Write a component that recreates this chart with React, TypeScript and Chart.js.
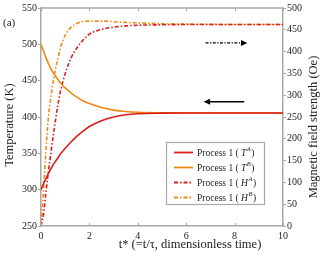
import React, { useEffect, useRef } from "react";
import { Chart, registerables } from "chart.js";
Chart.register(...registerables);

// dimensionless time t*
const times = [0, 0.1, 0.2, 0.3, 0.4, 0.5, 0.6, 0.7, 0.8, 0.9, 1, 1.25, 1.5, 1.75, 2, 2.5, 3, 3.5, 4, 5, 6, 7, 8, 9, 10];
// Temperature (K)
const tempA = [300, 308, 315, 322, 328, 334, 339, 344, 349, 353, 357, 366, 374, 381, 387, 395, 400, 403, 404.5, 405.3, 405.5, 405.5, 405.5, 405.5, 405.5];
const tempB = [500, 491, 482, 474, 467, 461, 456, 451.5, 447, 443, 440, 433, 427, 422, 418.5, 413, 409.5, 407.5, 406.5, 405.8, 405.5, 405.5, 405.5, 405.5, 405.5];
// Magnetic field strength (Oe)
const fieldA = [0, 25, 75, 122, 163, 205, 243, 278, 308, 330, 350, 386, 410, 427, 440, 451, 456, 459, 460.5, 461.5, 462, 462, 462, 462, 462];
const fieldB = [0, 80, 170, 245, 292, 330, 360, 385, 408, 425, 438, 456, 465, 469, 470, 470, 468.5, 467, 466, 464, 463, 462.5, 462, 462, 462];

const xTicks = [0, 2, 4, 6, 8, 10];
const seriesLabels = ["T", "T", "H", "H"];
const seriesSups = ["A", "B", "A", "B"];

const RED = "#d81e1e";
const ORANGE = "#ee8a12";
const AXIS = "#a8a8a8";
const TEXT = "#222";
const SERIF = "'Liberation Serif', 'Times New Roman', serif";
const DASHDOT = [4, 2, 1.5, 2];

const pts = (ys: number[]) => times.map((t, i) => ({ x: t, y: ys[i] }));

const decor = {
  id: "decor",
  afterDraw(chart: any) {
    const { ctx, chartArea: a, scales } = chart;
    const xs = scales.x, yl = scales.y, yr = scales.y2;
    ctx.save();
    // top frame line
    ctx.strokeStyle = AXIS;
    ctx.lineWidth = 1.5;
    ctx.beginPath();
    ctx.moveTo(a.left, a.top);
    ctx.lineTo(a.right, a.top);
    ctx.stroke();
    // inward x ticks (bottom and top)
    ctx.lineWidth = 1;
    for (const v of xTicks) {
      const px = Math.round(xs.getPixelForValue(v)) + 0.5;
      ctx.beginPath();
      ctx.moveTo(px, a.bottom);
      ctx.lineTo(px, a.bottom - 3);
      ctx.moveTo(px, a.top);
      ctx.lineTo(px, a.top + 3);
      ctx.stroke();
    }
    // titles
    ctx.fillStyle = TEXT;
    ctx.font = `12.5px ${SERIF}`;
    ctx.textAlign = "center";
    ctx.textBaseline = "middle";
    ctx.fillText("t* (=t/\u03c4, dimensionless time)", 190, 245);
    ctx.save();
    ctx.translate(10, (a.top + a.bottom) / 2 + 8);
    ctx.rotate(-Math.PI / 2);
    ctx.fillText("Temperature (K)", 0, 0);
    ctx.restore();
    ctx.save();
    ctx.translate(314, (a.top + a.bottom) / 2 + 10);
    ctx.rotate(-Math.PI / 2);
    ctx.fillText("Magnetic field strength (Oe)", 0, 0);
    ctx.restore();
    // panel label
    ctx.font = `11px ${SERIF}`;
    ctx.textAlign = "left";
    ctx.fillText("(a)", 3, 23);

    // arrows
    ctx.strokeStyle = "#000";
    ctx.fillStyle = "#000";
    ctx.lineWidth = 1.3;
    const arrow = (x0: number, x1: number, y: number, dash: number[]) => {
      const dir = Math.sign(x1 - x0);
      ctx.setLineDash(dash);
      ctx.beginPath();
      ctx.moveTo(x0, y);
      ctx.lineTo(x1 - dir * 5, y);
      ctx.stroke();
      ctx.setLineDash([]);
      ctx.beginPath();
      ctx.moveTo(x1, y);
      ctx.lineTo(x1 - dir * 6.5, y - 3);
      ctx.lineTo(x1 - dir * 6.5, y + 3);
      ctx.closePath();
      ctx.fill();
    };
    arrow(xs.getPixelForValue(6.8), xs.getPixelForValue(8.53), yr.getPixelForValue(420), [3, 1.5, 1.2, 1.5]);
    arrow(xs.getPixelForValue(8.4), xs.getPixelForValue(6.72), yl.getPixelForValue(421), []);

    // legend
    const bx = 166, by = 142, bw = 98, bh = 62;
    ctx.fillStyle = "#fff";
    ctx.fillRect(bx, by, bw, bh);
    ctx.strokeStyle = AXIS;
    ctx.lineWidth = 1.2;
    ctx.strokeRect(bx + 0.5, by + 0.5, bw, bh);
    chart.data.datasets.forEach((ds: any, i: number) => {
      const ry = by + 10.5 + i * 15;
      ctx.strokeStyle = ds.borderColor;
      ctx.lineWidth = 1.8;
      ctx.setLineDash(ds.borderDash || []);
      ctx.beginPath();
      ctx.moveTo(bx + 8, ry);
      ctx.lineTo(bx + 27, ry);
      ctx.stroke();
      ctx.setLineDash([]);
      ctx.fillStyle = TEXT;
      ctx.textBaseline = "middle";
      ctx.textAlign = "left";
      let tx = bx + 31;
      ctx.font = `9.5px ${SERIF}`;
      const s1 = "Process 1 ( ";
      ctx.fillText(s1, tx, ry + 1);
      tx += ctx.measureText(s1).width;
      ctx.font = `italic 9.5px ${SERIF}`;
      ctx.fillText(seriesLabels[i], tx, ry + 1);
      tx += ctx.measureText(seriesLabels[i]).width;
      ctx.font = `italic 6.5px ${SERIF}`;
      ctx.fillText(seriesSups[i], tx + 0.5, ry - 3);
      tx += ctx.measureText(seriesSups[i]).width + 1;
      ctx.font = `9.5px ${SERIF}`;
      ctx.fillText(")", tx, ry + 1);
    });
    ctx.restore();
  },
};

export default function App() {
  const ref = useRef<HTMLCanvasElement>(null);
  useEffect(() => {
    document.body.style.margin = "0";
    const tickFont = { family: SERIF, size: 10 };
    const chart = new Chart(ref.current!, {
      type: "line",
      data: {
        datasets: [
          { label: "Process 1 (T^A)", data: pts(tempA), yAxisID: "y", borderColor: RED, borderWidth: 1.6 },
          { label: "Process 1 (T^B)", data: pts(tempB), yAxisID: "y", borderColor: ORANGE, borderWidth: 1.6 },
          { label: "Process 1 (H^A)", data: pts(fieldA), yAxisID: "y2", borderColor: RED, borderWidth: 1.6, borderDash: DASHDOT },
          { label: "Process 1 (H^B)", data: pts(fieldB), yAxisID: "y2", borderColor: ORANGE, borderWidth: 1.6, borderDash: DASHDOT },
        ] as any,
      },
      options: {
        animation: false,
        responsive: false,
        layout: { padding: { top: 8, left: 0, right: 0, bottom: 0 } },
        elements: { point: { radius: 0 }, line: { cubicInterpolationMode: "monotone", fill: false } },
        plugins: { legend: { display: false }, tooltip: { enabled: false } },
        scales: {
          x: {
            type: "linear",
            min: 0,
            max: 10,
            afterFit: (s: any) => { s.height = 30; },
            afterBuildTicks: (s: any) => { s.ticks = xTicks.map((v) => ({ value: v })); },
            grid: { drawOnChartArea: false, drawTicks: false, color: AXIS },
            border: { display: true, color: AXIS, width: 1.5 },
            ticks: { font: tickFont, color: TEXT, padding: 4, maxRotation: 0 },
          },
          y: {
            position: "left",
            min: 250,
            max: 550,
            afterFit: (s: any) => { s.width = 41; },
            grid: { drawOnChartArea: false, drawTicks: true, tickLength: 3, color: AXIS },
            border: { display: true, color: AXIS, width: 1.5 },
            ticks: { stepSize: 50, font: tickFont, color: TEXT, padding: 1 },
          },
          y2: {
            position: "right",
            min: 0,
            max: 500,
            afterFit: (s: any) => { s.width = 43; },
            grid: { drawOnChartArea: false, drawTicks: true, tickLength: 3, color: AXIS },
            border: { display: true, color: AXIS, width: 1.5 },
            ticks: { stepSize: 50, font: tickFont, color: TEXT, padding: 1 },
          },
        },
      } as any,
      plugins: [decor],
    });
    return () => chart.destroy();
  }, []);
  return (
    <div style={{ width: 326, height: 256 }}>
      <canvas ref={ref} width={326} height={256} style={{ display: "block" }} />
    </div>
  );
}
